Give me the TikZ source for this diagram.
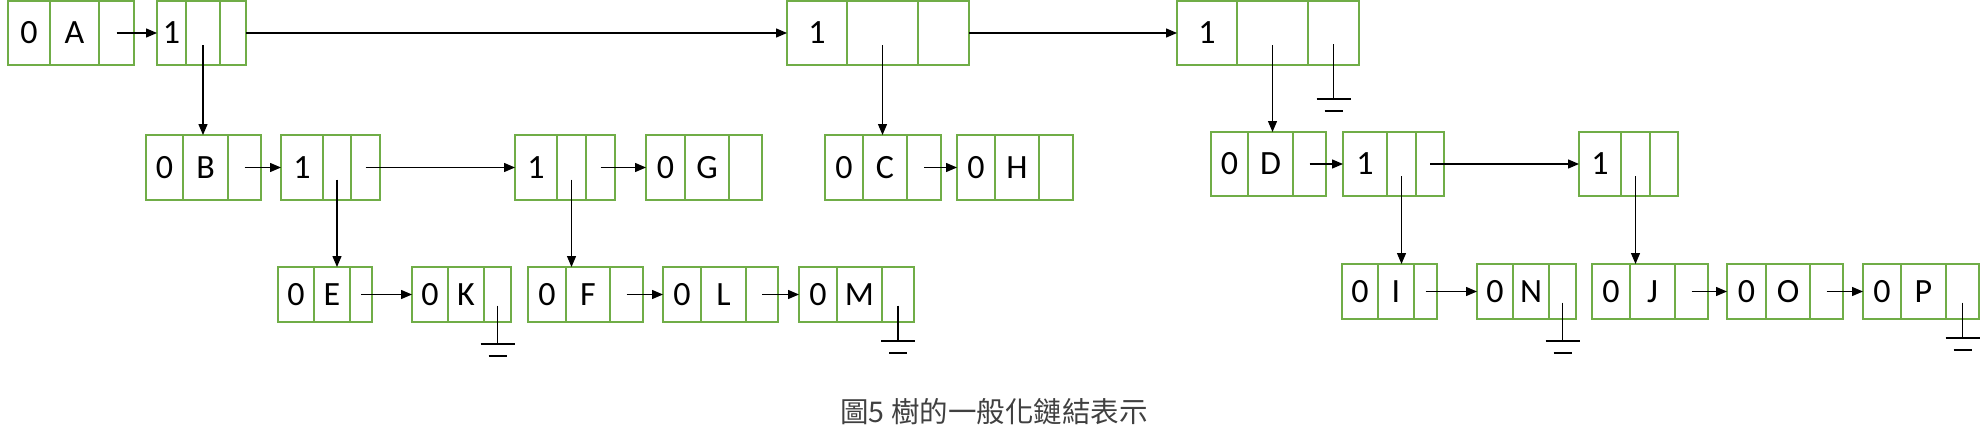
\documentclass[tikz,border=0pt]{standalone}
\usepackage{fontspec}
\setmainfont{Carlito}
\newfontfamily\cjk{Noto Sans CJK TC}
\usetikzlibrary{positioning,arrows.meta}
\definecolor{cellgreen}{RGB}{112,173,71}
\definecolor{capgray}{RGB}{64,64,64}
\newcommand{\listnode}[8][]{%
  \node[cell,#1,minimum width=#4pt,anchor=north west] (#2-a) at (#3) {#7};
  \node[cell,#1,minimum width=#5pt,right=0pt of #2-a] (#2-b) {#8};
  \node[cell,#1,minimum width=#6pt,right=0pt of #2-b] (#2-c) {};
}
\newcommand{\earthmark}[2][22pt]{%
  \coordinate (#2-g) at ([yshift=-#1]#2-c.south);
  \draw[link,shorten <=11pt] (#2-c.center) -- (#2-g);
  \draw[link] ([xshift=-17pt]#2-g) -- ([xshift=17pt]#2-g);
  \draw[link] ([xshift=-9pt,yshift=-12pt]#2-g) -- ([xshift=9pt,yshift=-12pt]#2-g);
}
\begin{document}
\begin{tikzpicture}[x=1pt,y=-1pt]
  \tikzset{cell/.style={draw=cellgreen,line width=2.2pt,inner sep=0pt,outer sep=0pt,
      font=\fontsize{34}{40}\selectfont},
    rowa/.style={minimum height=64pt},
    rowb/.style={minimum height=65pt},
    rowc/.style={minimum height=55pt},
    link/.style={line width=1.3pt,black},
    tip/.style={-{Triangle[length=11pt,width=9pt]}}}
  \useasboundingbox (0,0) rectangle (1986,447);
  \listnode[rowa]{A}{8,1}{42}{49}{35}{0}{A}
  \listnode[rowa]{T1}{157,1}{29}{34}{26}{1}{}
  \listnode[rowa]{T2}{787,1}{60}{71}{51}{1}{}
  \listnode[rowa]{T3}{1177,1}{60}{71}{51}{1}{}
  \listnode[rowb]{B}{146,135}{37}{45}{33}{0}{B}
  \listnode[rowb]{S1}{281,135}{42}{28}{29}{1}{}
  \listnode[rowb]{S2}{515,135}{42}{29}{29}{1}{}
  \listnode[rowb]{G}{646,135}{39}{44}{33}{0}{G}
  \listnode[rowb]{C}{825,135}{38}{44}{34}{0}{C}
  \listnode[rowb]{H}{957,135}{38}{44}{34}{0}{H}
  \listnode[rowa]{D}{1211,132}{37}{45}{33}{0}{D}
  \listnode[rowa]{R1}{1343,132}{44}{29}{28}{1}{}
  \listnode[rowa]{R2}{1579,132}{42}{29}{28}{1}{}
  \listnode[rowc]{E}{278,267}{36}{36}{22}{0}{E}
  \listnode[rowc]{K}{412,267}{36}{36}{27}{0}{K}
  \listnode[rowc]{F}{528,267}{38}{44}{33}{0}{F}
  \listnode[rowc]{L}{663,267}{38}{45}{32}{0}{L}
  \listnode[rowc]{M}{799,267}{38}{45}{32}{0}{M}
  \listnode[rowc]{I}{1342,264}{36}{36}{23}{0}{I}
  \listnode[rowc]{N}{1477,264}{36}{36}{27}{0}{N}
  \listnode[rowc]{J}{1592,264}{38}{45}{33}{0}{J}
  \listnode[rowc]{O}{1727,264}{39}{44}{33}{0}{O}
  \listnode[rowc]{P}{1863,264}{38}{45}{33}{0}{P}
  \node[font=\cjk\fontsize{28.5}{34}\selectfont,text=capgray] (cap) at (994,412)
    {圖5 樹的一般化鏈結表示};
  \foreach \a/\b in {A/T1,B/S1,S1/S2,S2/G,C/H,D/R1,R1/R2,E/K,F/L,L/M,I/N,J/O,O/P}
    \draw[link,tip] (\a-c.center) -- (\b-a.west);
  \foreach \a/\b in {T1/T2,T2/T3}
    \draw[link,tip] (\a-c.east) -- (\b-a.west);
  \foreach \a/\b in {T1/B,T2/C,T3/D,S1/E,S2/F,R1/I,R2/J}
    \draw[link,tip,shorten <=12pt] (\a-b.center) -- (\a-b.center |- \b-b.north);
  \earthmark[34pt]{T3}
  \earthmark{K}
  \earthmark[19pt]{M}
  \earthmark{N}
  \earthmark[19pt]{P}
\end{tikzpicture}
\end{document}
